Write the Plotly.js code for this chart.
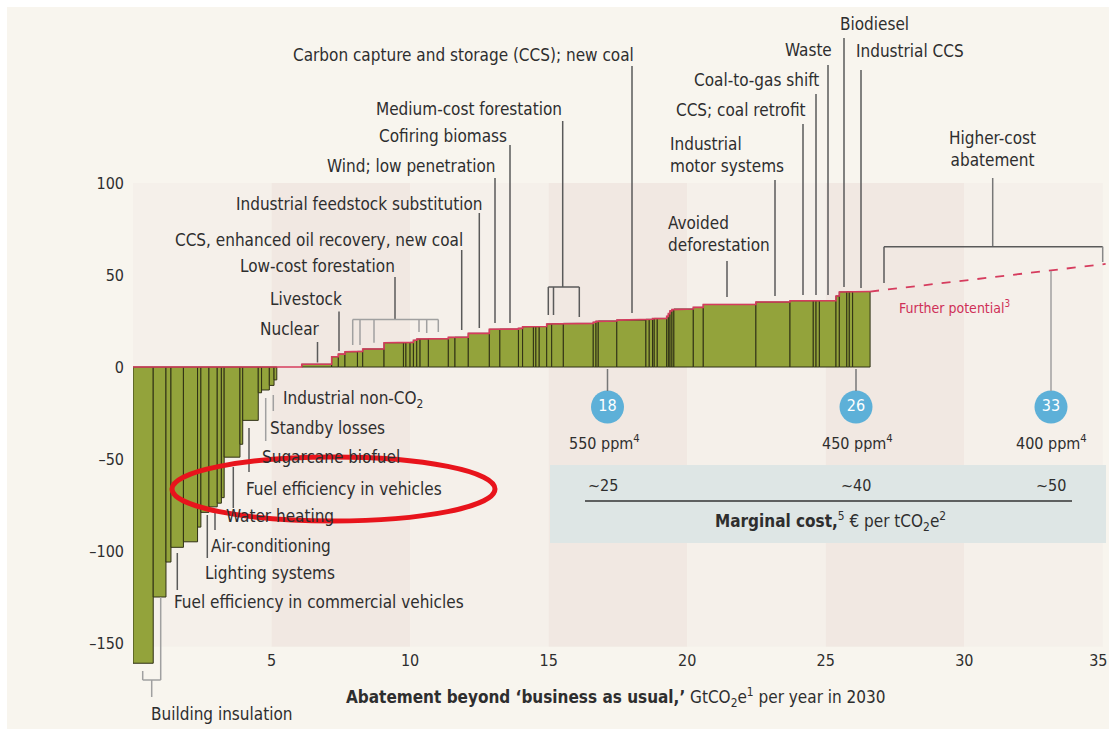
<!DOCTYPE html>
<html>
<head>
<meta charset="utf-8">
<script src="https://cdn.plot.ly/plotly-3.0.1.min.js"></script>
<style>html,body{margin:0;padding:0;background:#fff;}#chart{width:1109px;height:729px;}</style>
</head>
<body>
<div id="chart"></div>
<script>
// ---------------- DATA ----------------
// Abatement levers, left to right: width = abatement potential (GtCO2e), cost = € per tCO2e
const leverWidths = [
  0.73,0.46,0.18,0.45,0.51,0.12,0.29,0.30,0.15,0.10,0.57,0.10,0.56,0.12,0.28,0.17,0.10,
  0.90,
  1.08,0.24,0.24,0.45,0.19,0.77,0.70,0.09,0.15,0.12,0.12,0.12,0.30,0.72,0.24,0.48,0.76,0.38,0.67,0.15,
  0.39,0.09,0.12,0.27,0.18,0.42,1.08,0.10,0.08,0.67,1.05,0.12,0.12,0.06,0.11,0.34,0.06,0.06,0.07,0.07,
  0.70,0.36,1.90,1.23,0.84,0.10,0.12,0.60,0.12,0.27,0.09,0.12,0.63
];
const leverCosts = [
  -161,-125,-106,-98,-95,-87,-79,-76,-74,-71,-49,-42,-29,-14,-12.5,-10,-7,
  0,
  1.5,5.6,7,8.3,8.5,9.8,13.2,13.2,13.3,13.4,14.5,15.2,15.2,15.4,16.1,16.2,18.3,20.5,20.6,21,
  21.9,21.9,21.9,22,23.4,23.5,23.7,24.3,24.8,25,25.5,25.9,25.9,26.3,26.4,26.4,27.5,29,30.5,31.2,
  31.5,32.4,34,35.3,36,36,36,36.1,38.6,40.8,41,41,41
];
// Further potential (dashed extension): end point
const furtherEndX = 35.1;
const furtherEndCost = 56;
// Concentration targets
const targetGt = ['18','26','33'];
const targetPpm = ['550','450','400'];
const targetMarginalCost = ['~25','~40','~50'];
const xTicks = [5,10,15,20,25,30,35];
const xTickText = ['5','10','15','20','25','30','35'];
const yTicks = [-150,-100,-50,0,50,100];

// ---------------- GEOMETRY HELPERS ----------------
const W = 1109, H = 729, ML = 133, MR = 3;
const PXX = 27.71, PXY = 1.84, Y0PX = 367;
const X = px => (px - ML) / PXX;
const Y = py => (Y0PX - py) / PXY;
const FONT = '"Liberation Sans Narrow","Arial Narrow","DejaVu Sans Condensed",sans-serif';
const TXT = '#2e2e2e';

// build bars
const starts = [], ends = [];
let acc = 0;
leverWidths.forEach(w => { starts.push(acc); acc += w; ends.push(acc); });
const barX = [], barW = [], barY = [];
leverCosts.forEach((c, i) => {
  if (c !== 0) { barX.push((starts[i] + ends[i]) / 2); barW.push(leverWidths[i]); barY.push(c); }
});
// red top line
const topX = [], topY = [];
leverCosts.forEach((c, i) => { const v = Math.max(c, 0); topX.push(starts[i], ends[i]); topY.push(v, v); });
const lastEnd = ends[ends.length - 1];
const lastCost = leverCosts[leverCosts.length - 1];

const circleX = [X(607.5), X(856), X(1051)];
const circleY = Y(407);

const traces = [
  { type:'bar', x:barX, y:barY, width:barW, base:0,
    marker:{color:'#93a33b', line:{color:'#2f3015', width:1}}, hoverinfo:'x+y' },
  { type:'scatter', mode:'lines', x:topX, y:topY, line:{color:'#d63c5e', width:1.6}, hoverinfo:'skip' },
  { type:'scatter', mode:'lines', x:[lastEnd, furtherEndX], y:[lastCost, furtherEndCost],
    line:{color:'#d63c5e', width:1.8, dash:'dash'}, hoverinfo:'skip', cliponaxis:false },
  { type:'scatter', mode:'markers+text', x:circleX, y:[circleY,circleY,circleY], text:targetGt,
    textposition:'middle center', textfont:{family:FONT, size:16, color:'#ffffff'},
    marker:{size:33, color:'#5db0d8'}, hoverinfo:'skip', cliponaxis:false }
];

// ---------------- SHAPES ----------------
const shapes = [];
// cream background with thin white border top/left
shapes.push({type:'rect', xref:'paper', yref:'paper', layer:'below',
  x0:(7-ML)/(W-ML-MR), x1:(W-ML)/(W-ML-MR)+0.01, y0:-0.01, y1:1-7/H,
  fillcolor:'#f8f5ee', line:{width:0}});
// alternating bands
for (let k = 0; k < 7; k++) {
  shapes.push({type:'rect', xref:'x', yref:'y', layer:'below', x0:k*5, x1:(k+1)*5, y0:-152, y1:100,
    fillcolor: k % 2 === 1 ? '#f1e8e2' : '#f5f0ea', line:{width:0}});
}
// marginal cost box
shapes.push({type:'rect', xref:'x', yref:'y', layer:'below', x0:X(550), x1:X(1106), y0:Y(543), y1:Y(465),
  fillcolor:'#dee6e5', line:{width:0}});

function seg(x0, y0, x1, y1, color, width) {
  shapes.push({type:'line', xref:'x', yref:'y', x0:X(x0), y0:Y(y0), x1:X(x1), y1:Y(y1),
    line:{color: color || '#555555', width: width || 1.5}});
}
const DK = '#5a5a5a', LT = '#a0a0a0';
// upper leaders
seg(317.5,342,317.5,362.5,DK);
seg(339,311.5,339,351,DK);
seg(395,277,395,319.5,DK); seg(352.7,319.5,438.3,319.5,LT);
[[352.7,345],[360,345],[374,342.7],[419,332],[426.7,333],[438.3,332]].forEach(p=>seg(p[0],319.5,p[0],p[1],LT));
seg(461.7,250,461.7,330,DK);
seg(479.3,213,479.3,328,DK);
seg(495,178,495,323,DK);
seg(510,145,510,323,DK);
seg(562.7,121,562.7,287,DK); seg(548.3,287,579.3,287,DK);
[[548.3,315],[553.5,315],[579.3,317]].forEach(p=>seg(p[0],287,p[0],p[1],DK));
seg(632,66,632,313,DK);
seg(727,261,727,297,DK);
seg(775,180,775,296,DK);
seg(803,124,803,295,DK);
seg(816,94,816,295,DK);
seg(828,65,828,295,DK);
seg(844,38,844,287,DK);
seg(861,70,861,288,DK);
// higher-cost bracket
seg(992.7,178,992.7,246.7,'#777777'); seg(884,246.7,1102.7,246.7,DK);
seg(884,246.7,884,283,DK); seg(1102.7,246.7,1102.7,262,'#888888');
// circle stems
seg(607.5,369,607.5,391,'#777777'); seg(856,369,856,391,'#777777'); seg(1051,271,1051,391,LT);
// lower leaders
seg(273.3,395,273.3,411,LT);
seg(265.7,398,265.7,441,LT);
seg(249,428,249,472,DK);
seg(233.3,467,233.3,508,DK);
seg(215,513,215,530,DK);
seg(207.3,515,207.3,558,DK);
seg(177.3,553,177.3,590,DK);
// building insulation bracket
seg(160.7,597,160.7,680,LT); seg(142.7,680,160.7,680,LT); seg(142.7,671,142.7,680,LT); seg(151.7,680,151.7,697,LT);
// marginal cost rule
seg(585,501,1072,501,'#333333',1.4);
// red ellipse highlight
shapes.push({type:'circle', xref:'x', yref:'y', layer:'above', x0:X(172), x1:X(495), y0:Y(521), y1:Y(457),
  line:{color:'#e8141c', width:5}});

// ---------------- ANNOTATIONS ----------------
const annotations = [];
function lab(text, px, py, xanchor, opts) {
  opts = opts || {};
  annotations.push(Object.assign({xref:'x', yref:'y', x:X(px), y:Y(py), text:text, showarrow:false,
    xanchor:xanchor || 'left', yanchor:'middle', align: opts.align || xanchor || 'left',
    font:{family:FONT, size: opts.size || 17, color: opts.color || TXT}}, opts.extra || {}));
}
// upper labels (right aligned to leaders)
lab('Nuclear', 322, 329, 'right');
lab('Livestock', 344, 299, 'right');
lab('Low-cost forestation', 397, 266, 'right');
lab('CCS, enhanced oil recovery, new coal', 465, 240, 'right');
lab('Industrial feedstock substitution', 485, 204, 'right');
lab('Wind; low penetration', 498, 166, 'right');
lab('Cofiring biomass', 509, 136, 'right');
lab('Medium-cost forestation', 564, 109, 'right');
lab('Carbon capture and storage (CCS); new coal', 636, 55, 'right');
lab('Avoided<br>deforestation', 666, 233.5, 'left');
lab('Industrial<br>motor systems', 668, 155, 'left');
lab('CCS; coal retrofit', 808, 110, 'right');
lab('Coal-to-gas shift', 821, 80, 'right');
lab('Waste', 834, 50, 'right');
lab('Biodiesel', 838, 24, 'left');
lab('Industrial CCS', 854, 51, 'left');
lab('Higher-cost<br>abatement', 992, 148.5, 'center');
lab('Further potential<sup>3</sup>', 897, 307, 'left', {size:14, color:'#cf2f57'});
// lower labels
lab('Industrial non-CO<sub>2</sub>', 281, 399, 'left');
lab('Standby losses', 268, 428, 'left');
lab('Sugarcane biofuel', 260, 457, 'left');
lab('Fuel efficiency in vehicles', 244, 489, 'left');
lab('Water heating', 224, 516, 'left');
lab('Air-conditioning', 209, 546, 'left');
lab('Lighting systems', 203, 573, 'left');
lab('Fuel efficiency in commercial vehicles', 172, 602, 'left');
lab('Building insulation', 149, 714, 'left');
// concentration targets
const ppmX = [604, 857, 1051];
targetPpm.forEach((p, i) => lab(p + ' ppm<sup>4</sup>', ppmX[i], 442, 'center', {size:16}));
const mcX = [603, 856, 1051];
targetMarginalCost.forEach((m, i) => lab(m, mcX[i], 485, 'center', {size:16}));
lab('<b>Marginal cost,</b><sup>5</sup> € per tCO<sub>2</sub>e<sup>2</sup>', 830, 521, 'center', {size:17});
// axis titles
lab('<b>Abatement beyond ‘business as usual,’</b> GtCO<sub>2</sub>e<sup>1</sup> per year in 2030', 615, 697, 'center', {size:17});
lab('<b>Cost of abatement,</b> € per tCO<sub>2</sub>e<sup>2</sup>', 64, 450, 'center', {size:17, extra:{textangle:-90}});

const layout = {
  width:W, height:H,
  margin:{l:ML, r:MR, t:0, b:0, autoexpand:false},
  paper_bgcolor:'#ffffff', plot_bgcolor:'rgba(0,0,0,0)',
  showlegend:false, bargap:0,
  font:{family:FONT, color:TXT},
  xaxis:{range:[0,(W-ML-MR)/PXX], anchor:'free', position:1-649/H, tickvals:xTicks,
    ticktext: xTickText.map((t, i) => i === xTickText.length - 1 ? t + '\u00A0\u00A0' : t),
    ticks:'', showgrid:false, zeroline:false, showline:false, fixedrange:true, ticklabeloverflow:'allow',
    tickfont:{family:FONT, size:16, color:TXT}},
  yaxis:{range:[Y(H), Y(0)], tickvals:yTicks, ticktext:yTicks.map(v => v < 0 ? '\u2013' + Math.abs(v) : String(v)),
    ticks:'', showgrid:false, zeroline:false, showline:false, fixedrange:true, ticklabelstandoff:8,
    tickfont:{family:FONT, size:16, color:TXT}},
  shapes:shapes, annotations:annotations
};
Plotly.newPlot('chart', traces, layout, {displayModeBar:false, staticPlot:true});
</script>
</body>
</html>
